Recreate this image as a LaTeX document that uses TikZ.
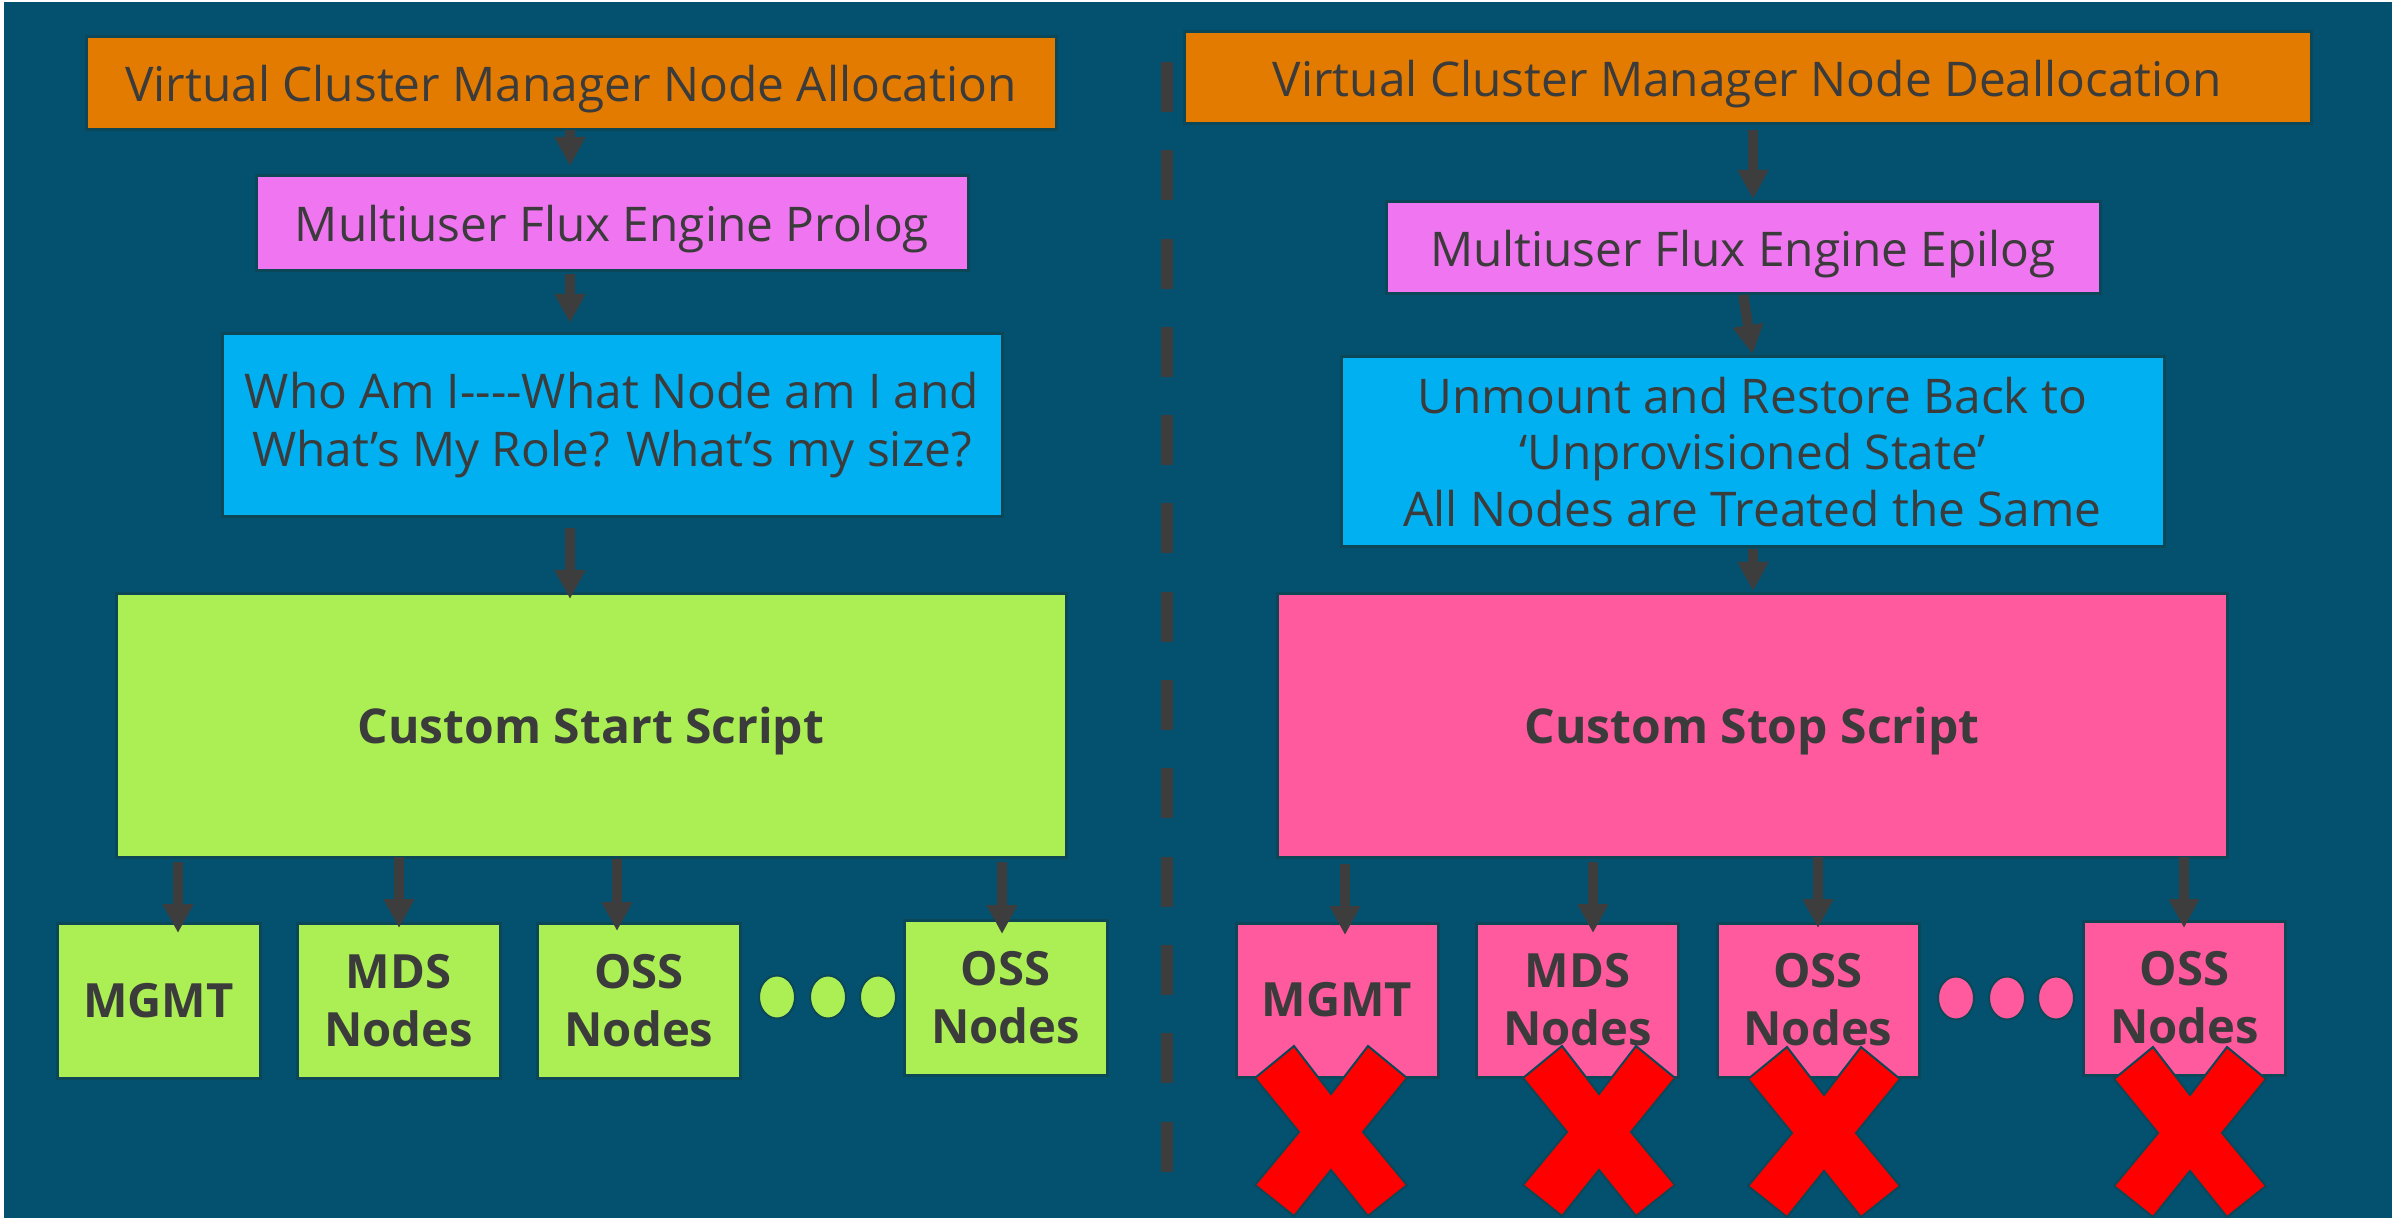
\documentclass[tikz,border=0pt]{standalone}
\usepackage{fontspec}
\setmainfont{Open Sans}
\usetikzlibrary{arrows.meta,shapes.geometric}

\definecolor{bgblue}{HTML}{04516F}
\definecolor{edge}{HTML}{0B4756}
\definecolor{ink}{HTML}{3B3B3B}
\definecolor{orangebox}{HTML}{E37B00}
\definecolor{violetbox}{HTML}{F075F0}
\definecolor{cyanbox}{HTML}{00B0F0}
\definecolor{limebox}{HTML}{ACEF55}
\definecolor{rosebox}{HTML}{FF5A9E}
\definecolor{crossred}{HTML}{FF0000}
\definecolor{arrowgray}{HTML}{3D3D3D}

\tikzset{
  box/.style={draw=edge, line width=1.5pt, inner sep=0pt, outer sep=0pt,
    text=ink, align=center},
  size/.style 2 args={minimum width=#1*0.5pt, minimum height=#2*0.5pt},
  plain/.style={font=\fontsize{23.9pt}{29pt}\selectfont},
  oneline/.style={plain, text depth=0pt},
  plainthree/.style={font=\fontsize{23.9pt}{28.3pt}\selectfont},
  heavy/.style={font=\bfseries\fontsize{24pt}{30pt}\selectfont, text depth=0pt},
  unit/.style={box, size={203}{155}, font=\bfseries\fontsize{23.6pt}{29pt}\selectfont},
  dotmark/.style={ellipse, draw=edge, line width=1pt, inner sep=0pt,
    minimum width=18pt, minimum height=21.5pt},
  flow/.style={draw=arrowgray, line width=5pt,
    -{Triangle[width=14.5pt,length=14.5pt]}},
  pics/crossmark/.style={code={
    \filldraw[fill=crossred, draw=edge, line width=1pt, line join=miter]
      (-37,-86) -- (0,-38) -- (37,-86) -- (76,-54) -- (32,0) -- (76,53)
      -- (37,84) -- (0,38) -- (-37,84) -- (-76,53) -- (-32,0) -- (-76,-54)
      -- cycle;}}
}

\begin{document}
\begin{tikzpicture}[x=0.5pt,y=-0.5pt]
  % canvas
  \fill[white] (0,0) rectangle (2399,1218);
  \fill[bgblue] (4,2) rectangle (2392,1218);

  % separator between the two sequences
  \coordinate (sepTop) at (1167,62);
  \coordinate (sepBot) at (1167,1172);
  \draw[arrowgray, line width=6pt, dash pattern=on 25pt off 19.15pt]
    (sepTop) -- (sepBot);

  % ---------------- allocation sequence ----------------
  \node[box, oneline, fill=orangebox, size={970}{93}] (alloc) at (571,83.5)
    {Virtual Cluster Manager Node Allocation};
  \node[box, oneline, fill=violetbox, size={712}{95}] (prolog) at (612,223.5)
    {Multiuser Flux Engine Prolog};
  \node[box, plain, fill=cyanbox, size={780}{183}] (whoami) at (612,425.5)
    {Who Am I-\kern0pt-\kern0pt-\kern0pt-What Node am I and\\What’s My Role? What’s my size?};
  \node[box, heavy, fill=limebox, size={950}{263}] (start) at (591,725.5)
    {Custom Start Script};

  \node[unit, fill=limebox] (mgmtA) at (158.5,1000.5) {MGMT};
  \node[unit, fill=limebox] (mdsA) at (398.5,1000.5) {MDS\\Nodes};
  \node[unit, fill=limebox] (ossA) at (639,1000.5) {OSS\\Nodes};
  \node[unit, fill=limebox] (ossnA) at (1005.5,997.5) {OSS\\Nodes};

  \node[dotmark, fill=limebox] (dotA1) at (777,997) {};
  \node[dotmark, fill=limebox] (dotA2) at (828,997) {};
  \node[dotmark, fill=limebox] (dotA3) at (878,997) {};

  \coordinate (colA) at (570,0);
  \draw[flow, shorten >=5pt] (alloc.south -| colA) -- (prolog.north -| colA);
  \draw[flow, shorten <=1.5pt, shorten >=5.5pt] (prolog.south -| colA) -- (whoami.north -| colA);
  \draw[flow, shorten <=5.5pt, shorten >=-2.5pt] (whoami.south -| colA) -- (start.north -| colA);

  \coordinate (colA1) at (178,0);
  \coordinate (colA2) at (399,0);
  \coordinate (colA3) at (617,0);
  \coordinate (colA4) at (1002,0);
  \draw[flow, shorten <=2.5pt, shorten >=-5pt] (start.south -| colA1) -- (mgmtA.north -| colA1);
  \draw[flow, shorten >=-2.5pt] (start.south -| colA2) -- (mdsA.north -| colA2);
  \draw[flow, shorten <=1pt, shorten >=-4pt] (start.south -| colA3) -- (ossA.north -| colA3);
  \draw[flow, shorten <=2.5pt, shorten >=-7pt] (start.south -| colA4) -- (ossnA.north -| colA4);

  % ---------------- deallocation sequence ----------------
  \node[box, oneline, fill=orangebox, size={1127}{92}] (dealloc) at (1747.5,78)
    {Virtual Cluster Manager Node Deallocation};
  \node[box, oneline, fill=violetbox, size={714}{92}] (epilog) at (1743,248)
    {Multiuser Flux Engine Epilog};
  \node[box, plainthree, fill=cyanbox, size={823}{190}] (unmount) at (1752.5,452)
    {Unmount and Restore Back to\\‘Unprovisioned State’\\All Nodes are Treated the Same};
  \node[box, heavy, fill=rosebox, size={950}{263}] (stop) at (1752,725.5)
    {Custom Stop Script};

  \node[unit, fill=rosebox, size={202}{154}] (mgmtB) at (1337,1000) {MGMT};
  \node[unit, fill=rosebox, size={202}{154}] (mdsB) at (1577.5,1000) {MDS\\Nodes};
  \node[unit, fill=rosebox, size={202}{154}] (ossB) at (1818,1000) {OSS\\Nodes};
  \node[unit, fill=rosebox, size={202}{154}] (ossnB) at (2184.5,998) {OSS\\Nodes};

  \node[dotmark, fill=rosebox] (dotB1) at (1956,998) {};
  \node[dotmark, fill=rosebox] (dotB2) at (2007,998) {};
  \node[dotmark, fill=rosebox] (dotB3) at (2056,998) {};

  \coordinate (colB) at (1753,0);
  \coordinate (colB0) at (1743,0);
  \draw[flow, shorten <=3pt, shorten >=1.5pt] (dealloc.south -| colB) -- (epilog.north -| colB);
  \draw[flow, shorten <=0.5pt, shorten >=1.5pt] (epilog.south -| colB0) -- (unmount.north -| colB);
  \draw[flow, shorten <=1pt, shorten >=1.5pt] (unmount.south -| colB) -- (stop.north -| colB);

  \coordinate (colB1) at (1345,0);
  \coordinate (colB2) at (1593,0);
  \coordinate (colB3) at (1818,0);
  \coordinate (colB4) at (2184,0);
  \draw[flow, shorten <=3.5pt, shorten >=-6pt] (stop.south -| colB1) -- (mgmtB.north -| colB1);
  \draw[flow, shorten <=2.5pt, shorten >=-5pt] (stop.south -| colB2) -- (mdsB.north -| colB2);
  \draw[flow, shorten >=-2.5pt] (stop.south -| colB3) -- (ossB.north -| colB3);
  \draw[flow, shorten >=-3.5pt] (stop.south -| colB4) -- (ossnB.north -| colB4);

  % removed nodes
  \pic at (1331,1132) {crossmark};
  \pic at (1599,1132) {crossmark};
  \pic at (1824,1133) {crossmark};
  \pic at (2190,1133) {crossmark};
\end{tikzpicture}
\end{document}
